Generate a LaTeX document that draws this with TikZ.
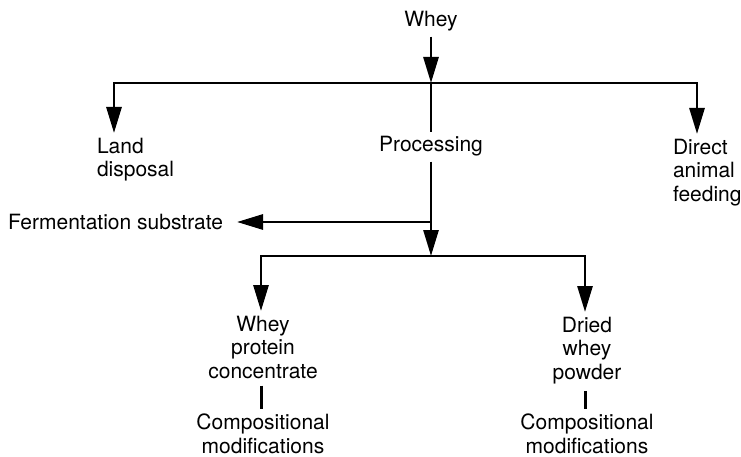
\documentclass[tikz,border=0pt]{standalone}
\usepackage{fontspec}
\setmainfont{TeX Gyre Heros}
\usetikzlibrary{arrows.meta}
\begin{document}
\begin{tikzpicture}[x=1pt,y=-1pt,
  lbl/.style={inner sep=0pt, outer xsep=0pt, outer ysep=5pt,
    font=\fontsize{21}{23.5}\selectfont},
  flow/.style={line width=2.8pt},
  arr/.style={flow, -{Triangle[length=26pt,width=15pt]}},
  link/.style={line width=3pt, shorten <=2pt}]
\useasboundingbox (0,0) rectangle (741,457);

% labels
\node[lbl, anchor=base] (whey) at (431,27) {Whey};
\node[lbl, anchor=north west, align=left] (land) at (97,133) {Land\\disposal};
\node[lbl, anchor=base] (proc) at (431,152) {Processing};
\node[lbl, anchor=north west, align=left] (feed) at (673,134) {Direct\\animal\\feeding};
\node[lbl, anchor=east, outer xsep=14pt] (ferm) at (237,222) {Fermentation substrate};
\node[lbl, anchor=north, align=center] (wpc) at (263,311) {Whey\\protein\\concentrate};
\node[lbl, anchor=north, align=center] (dwp) at (587,312) {Dried\\whey\\powder};
\node[lbl, anchor=north, align=center] (cm1) at (263,409) {Compositional\\modifications};
\node[lbl, anchor=north, align=center] (cm2) at (587,409) {Compositional\\modifications};

% junctions
\coordinate (j1) at (431,83);
\coordinate (armL) at (114,83);
\coordinate (armR) at (697,83);
\coordinate (j2) at (431,222);
\coordinate (j3) at (431,256);
\coordinate (armL2) at (261,256);
\coordinate (armR2) at (585,256);

% first split
\draw[arr] (whey.south) -- (j1);
\draw[arr] (j1) -| (armL |- land.north);
\draw[arr] (j1) -| (armR |- feed.north);
\draw[flow] (j1) -- (proc.north);

% processing outlets
\draw[arr] (proc.south) -- (j3);
\draw[arr] (j2) -- (ferm.east);

% second split
\draw[arr] (j3) -| (armL2 |- wpc.north);
\draw[arr] (j3) -| (armR2 |- dwp.north);

% products to modifications
\draw[link] (armL2 |- wpc.south) -- (armL2 |- cm1.north);
\draw[link] (armR2 |- dwp.south) -- (armR2 |- cm2.north);
\end{tikzpicture}
\end{document}
